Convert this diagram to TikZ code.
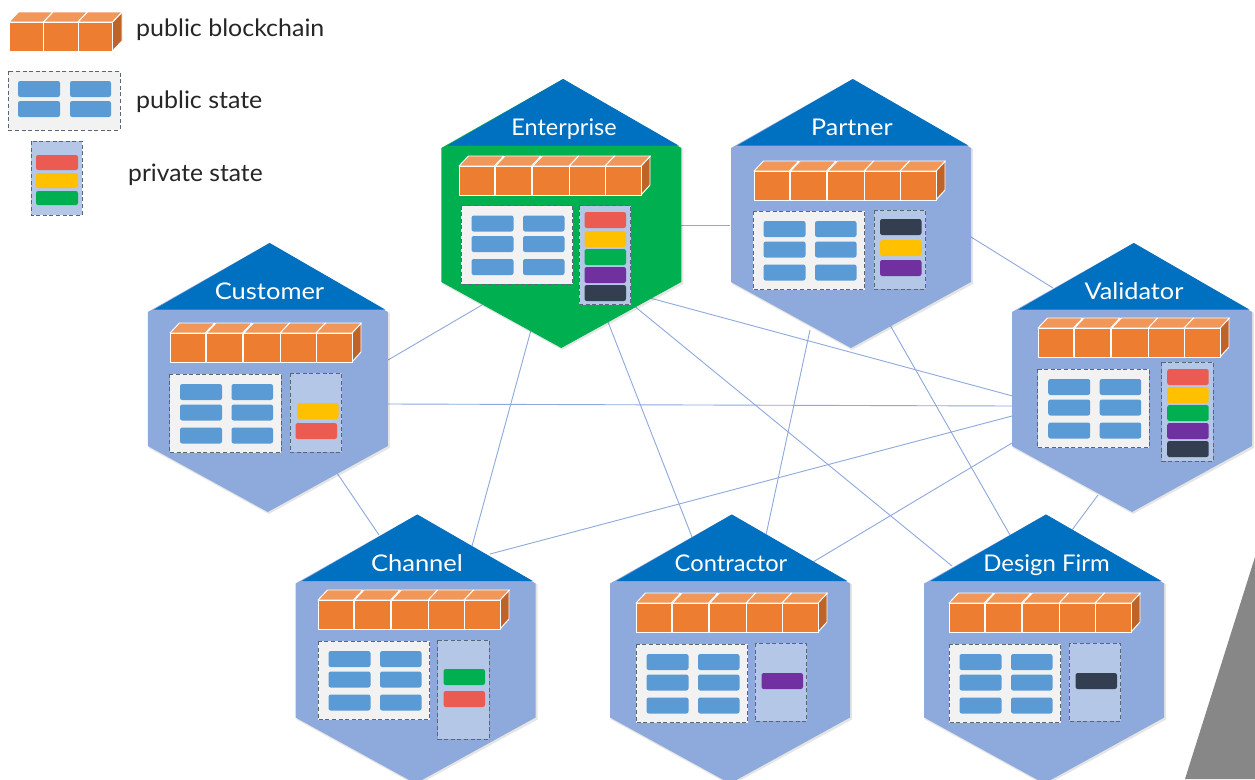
\documentclass[tikz,border=0pt]{standalone}
\usepackage{fontspec}
\usepackage{graphicx}
\setmainfont{Lato}
\definecolor{hexc}{HTML}{8EA9DB}
\definecolor{headc}{HTML}{0070C0}
\definecolor{entc}{HTML}{00B050}
\definecolor{orc}{HTML}{ED7D31}
\definecolor{ortop}{HTML}{F1975A}
\definecolor{orside}{HTML}{BE6428}
\definecolor{barb}{HTML}{5B9BD5}
\definecolor{pubf}{HTML}{F2F2F2}
\definecolor{privf}{HTML}{B4C7E7}
\definecolor{dashc}{HTML}{5A6578}
\definecolor{redb}{HTML}{EB5B52}
\definecolor{yelb}{HTML}{FFC000}
\definecolor{greb}{HTML}{00B050}
\definecolor{purb}{HTML}{7030A0}
\definecolor{navb}{HTML}{333F50}
\definecolor{linec}{HTML}{8EA9DB}
\definecolor{grayc}{HTML}{878787}
\tikzset{
  hextitle/.style={text=white,font=\fontsize{23}{27}\selectfont,inner sep=0pt,anchor=base},
  legendtext/.style={text=black!85,font=\fontsize{24}{28}\selectfont,inner sep=0pt,anchor=base west},
  link/.style={draw=linec,line width=0.9pt},
  cube/.style={draw=white,line width=0.95pt,line join=round},
  dashbox/.style={draw=dashc,line width=1pt,dash pattern=on 4pt off 2.6pt},
  hexpt/.style={inner sep=0pt,minimum size=0pt}
}
% hexagon: centre x, apex y, fill
\newcommand{\hexa}[3]{%
  \fill[black,opacity=.10] (#1+3.8,#2+1.5) -- (#1+122,#2+70) -- (#1+122,#2+205) -- (#1+1,#2+271) -- (#1-119,#2+205) -- (#1-119,#2+70) -- cycle;
  \fill[#3] (#1+1.8,#2) -- (#1+120,#2+69) -- (#1+120,#2+203) -- (#1,#2+269) -- (#1-120,#2+203) -- (#1-120,#2+69) -- cycle;
  \fill[headc] (#1+1.8,#2) -- (#1+117.3,#2+66.5) -- (#1-113.7,#2+66.5) -- cycle;
}
% one cube: x, y of its top-back box corner, width
\newcommand{\onecube}[3]{%
  \filldraw[cube,fill=ortop] (#1,#2+10) -- (#1+9.5,#2) -- (#1+9.5+#3,#2) -- (#1+#3,#2+10) -- cycle;
  \filldraw[cube,fill=orc] (#1,#2+10) rectangle (#1+#3,#2+39);
}
% chain of five cubes: x, y of top-left of the bounding box
\newcommand{\chain}[2]{%
  \filldraw[cube,fill=orside] (#1+182,#2+10) -- (#1+191,#2) -- (#1+191,#2+29) -- (#1+182,#2+39) -- cycle;
  \onecube{#1}{#2}{35.3}
  \onecube{#1+36.5}{#2}{36}
  \onecube{#1+73.8}{#2}{36.4}
  \onecube{#1+110.2}{#2}{35.9}
  \onecube{#1+146.1}{#2}{35.9}
}
% legend chain of three cubes
\newcommand{\shortchain}[2]{%
  \filldraw[cube,fill=orside] (#1+103.5,#2+10) -- (#1+113,#2) -- (#1+113,#2+29) -- (#1+103.5,#2+39) -- cycle;
  \onecube{#1}{#2}{34.5}
  \onecube{#1+34.5}{#2}{34.5}
  \onecube{#1+69}{#2}{34.5}
}
\newcommand{\rbar}[5]{\fill[#5,rounded corners=2.2pt] (#1,#2) rectangle (#3,#4);}
% public state with three rows
\newcommand{\pub}[2]{%
  \filldraw[dashbox,fill=pubf] (#1,#2) rectangle (#1+111.5,#2+78.5);
  \foreach \r in {10,30.5,53.5}{%
    \rbar{#1+10.5}{#2+\r}{#1+52.5}{#2+\r+16}{barb}
    \rbar{#1+62}{#2+\r}{#1+103.5}{#2+\r+16}{barb}
  }%
}
\newcommand{\privbox}[3]{\filldraw[dashbox,fill=privf] (#1,#2) rectangle (#1+51.5,#3);}
\newcommand{\pbar}[3]{\rbar{#1+5.5}{#2}{#1+47}{#2+16}{#3}}
\begin{document}
\begin{tikzpicture}[x=1pt,y=-1pt]
\useasboundingbox (0,0) rectangle (1255,779);
\fill[white] (0,0) rectangle (1255,779);
\begin{scope}
\clip (0,0) rectangle (1255,779);
\fill[grayc] (1255,557) -- (1185,779) -- (1255,779) -- cycle;

% anchors of the hexagons (their apexes)
\node[hexpt] (ent) at (563,79) {};
\node[hexpt] (par) at (851,79) {};
\node[hexpt] (cus) at (268,243) {};
\node[hexpt] (val) at (1133,243) {};
\node[hexpt] (cha) at (416,515) {};
\node[hexpt] (con) at (731,515) {};
\node[hexpt] (des) at (1045,515) {};

% connectors
\draw[link] ([shift={(120,117)}]cus.center) -- ([shift={(-81,226)}]ent.center);
\draw[link] ([shift={(120,161)}]cus.center) -- ([shift={(-121,163)}]val.center);
\draw[link] ([shift={(69,230)}]cus.center) -- ([shift={(-37,20)}]cha.center);
\draw[link] ([shift={(-32,251)}]ent.center) -- ([shift={(56,31)}]cha.center);
\draw[link] ([shift={(45,243)}]ent.center) -- ([shift={(-39,22)}]con.center);
\draw[link] ([shift={(70,226)}]ent.center) -- ([shift={(-93,51)}]des.center);
\draw[link] ([shift={(87,219)}]ent.center) -- ([shift={(-113,155)}]val.center);
\draw[link] ([shift={(118,146)}]ent.center) -- ([shift={(-121,146)}]par.center);
\draw[link] ([shift={(120,158)}]par.center) -- ([shift={(-80,45)}]val.center);
\draw[link] ([shift={(-41,251)}]par.center) -- ([shift={(35,20)}]con.center);
\draw[link] ([shift={(39,246)}]par.center) -- ([shift={(-35,20)}]des.center);
\draw[link] ([shift={(-121,173)}]val.center) -- ([shift={(74,39)}]cha.center);
\draw[link] ([shift={(-121,200)}]val.center) -- ([shift={(82,47)}]con.center);
\draw[link] ([shift={(-35,252)}]val.center) -- ([shift={(27,15)}]des.center);

% hexagons
\hexa{561.3}{79}{entc}
\hexa{851}{79}{hexc}
\hexa{267.8}{243}{hexc}
\hexa{1132}{243}{hexc}
\hexa{415.5}{514.5}{hexc}
\hexa{730}{514.5}{hexc}
\hexa{1044.2}{514.5}{hexc}

% titles
\node[hextitle] (tent) at (564,135.5) {\scalebox{1.02}[1]{Enterprise}};
\node[hextitle] (tpar) at (852,135.5) {\scalebox{1.09}[1]{Partner}};
\node[hextitle] (tcus) at (269.5,299) {\scalebox{1.11}[1]{Customer}};
\node[hextitle] (tval) at (1134,299) {\scalebox{1.10}[1]{Validator}};
\node[hextitle] (tcha) at (417,571) {\scalebox{1.11}[1]{Channel}};
\node[hextitle] (tcon) at (731,571) {\scalebox{1.03}[1]{Contractor}};
\node[hextitle] (tdes) at (1046.5,571) {\scalebox{1.04}[1]{Design Firm}};

% chains
\chain{459}{156}
\chain{754}{161}
\chain{170}{323}
\chain{1038}{318}
\chain{318}{590}
\chain{636}{593}
\chain{949}{593}

% public states
\pub{461}{205.5}
\pub{753}{211}
\pub{169.5}{374}
\pub{1037.7}{369}
\pub{318}{641}
\pub{636}{644}
\pub{949}{644}

% private states
\privbox{579}{205.5}{304.5}
\pbar{579}{212}{redb}\pbar{579}{231}{yelb}\pbar{579}{249}{greb}\pbar{579}{267}{purb}\pbar{579}{285}{navb}
\privbox{874}{210}{289}
\pbar{874.5}{219}{navb}\pbar{874.5}{240}{yelb}\pbar{874.5}{260}{purb}
\privbox{290}{373}{452}
\pbar{291.5}{403}{yelb}\pbar{290}{423}{redb}
\privbox{1161.7}{362}{461}
\pbar{1161.7}{369}{redb}\pbar{1161.7}{387}{yelb}\pbar{1161.7}{405}{greb}\pbar{1161.7}{423}{purb}\pbar{1161.7}{441}{navb}
\privbox{437.5}{640}{739}
\pbar{438}{669}{greb}\pbar{438}{691}{redb}
\privbox{755}{643}{721}
\pbar{756}{673}{purb}
\privbox{1069}{643}{721}
\pbar{1070}{673}{navb}

% legend
\shortchain{9}{12}
\filldraw[dashbox,fill=pubf] (8,71) rectangle (120,130);
\rbar{18}{81}{60}{97}{barb}\rbar{70}{81}{111}{97}{barb}
\rbar{18}{101}{60}{117}{barb}\rbar{70}{101}{111}{117}{barb}
\filldraw[dashbox,fill=privf] (31,141) rectangle (82,215);
\rbar{36}{155}{78}{170}{redb}\rbar{36}{173}{78}{188}{yelb}\rbar{36}{191}{78}{205}{greb}
\node[legendtext] (l1) at (136,36) {\scalebox{1.04}[1]{public blockchain}};
\node[legendtext] (l2) at (136,108) {\scalebox{1.04}[1]{public state}};
\node[legendtext] (l3) at (128,181) {\scalebox{1.025}[1]{private state}};
\end{scope}
\end{tikzpicture}
\end{document}
